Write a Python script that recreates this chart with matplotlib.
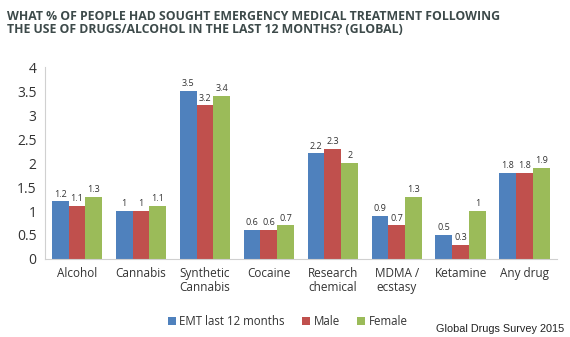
import matplotlib
matplotlib.use("Agg")
import matplotlib.pyplot as plt
import numpy as np

categories = ["Alcohol", "Cannabis", "Synthetic\nCannabis", "Cocaine", "Research\nchemical",
              "MDMA /\necstasy", "Ketamine", "Any drug"]
emt = [1.2, 1.0, 3.5, 0.6, 2.2, 0.9, 0.5, 1.8]
male = [1.1, 1.0, 3.2, 0.6, 2.3, 0.7, 0.3, 1.8]
female = [1.3, 1.1, 3.4, 0.7, 2.0, 1.3, 1.0, 1.9]
series_names = ["EMT last 12 months", "Male", "Female"]
colors = ["#4F81BD", "#C0504D", "#9BBB59"]
yticks = [0, 0.5, 1, 1.5, 2, 2.5, 3, 3.5, 4]

plt.rcParams['font.family'] = ['Open Sans', 'DejaVu Sans']

fig = plt.figure(figsize=(5.7, 3.37), dpi=100)
ax = fig.add_axes([0.079, 0.2315, 0.898, 0.5695])

x = np.arange(len(categories))
w = 0.265
handles = []
for i, (vals, c, name) in enumerate(zip([emt, male, female], colors, series_names)):
    bars = ax.bar(x + (i - 1) * w, vals, w, color=c, label=name, linewidth=0)
    handles.append(bars)
    for xi, v in zip(x + (i - 1) * w, vals):
        ax.text(xi, v + 0.06, f"{v:g}", ha="center", va="bottom", fontsize=6.5, color="#333333")

ax.set_xlim(-0.5, len(categories) - 0.5)
ax.set_ylim(0, 4)
ax.set_yticks(yticks)
ax.set_yticklabels([f"{t:g}" for t in yticks], fontsize=10, color="#333333")
ax.set_xticks(x)
ax.set_xticklabels(categories, fontsize=8.5, color="#333333", linespacing=1.1)
ax.tick_params(axis="both", length=0, pad=6)
ax.tick_params(axis="y", pad=6)
for s in ["top", "right"]:
    ax.spines[s].set_visible(False)
ax.spines["left"].set_color("#d0d0d0")
ax.spines["bottom"].set_color("#d0d0d0")

fig.legend(handles=handles, labels=series_names, loc="center", bbox_to_anchor=(0.505, 0.047),
           ncol=3, frameon=False, fontsize=8.3, handlelength=0.7, handleheight=0.7,
           handletextpad=0.3, columnspacing=1.5, labelcolor="#333333")

fig.text(0.012, 0.97, "WHAT % OF PEOPLE HAD SOUGHT EMERGENCY MEDICAL TREATMENT FOLLOWING\nTHE USE OF DRUGS/ALCOHOL IN THE LAST 12 MONTHS? (GLOBAL)",
         ha="left", va="top", fontsize=8.8, fontweight="bold", color="#3d4a4a", linespacing=1.0)
fig.text(0.99, 0.025, "Global Drugs Survey 2015", ha="right", va="center",
         fontsize=7.8, family="Liberation Sans", color="#222222")

fig.savefig("out.png", dpi=100)
